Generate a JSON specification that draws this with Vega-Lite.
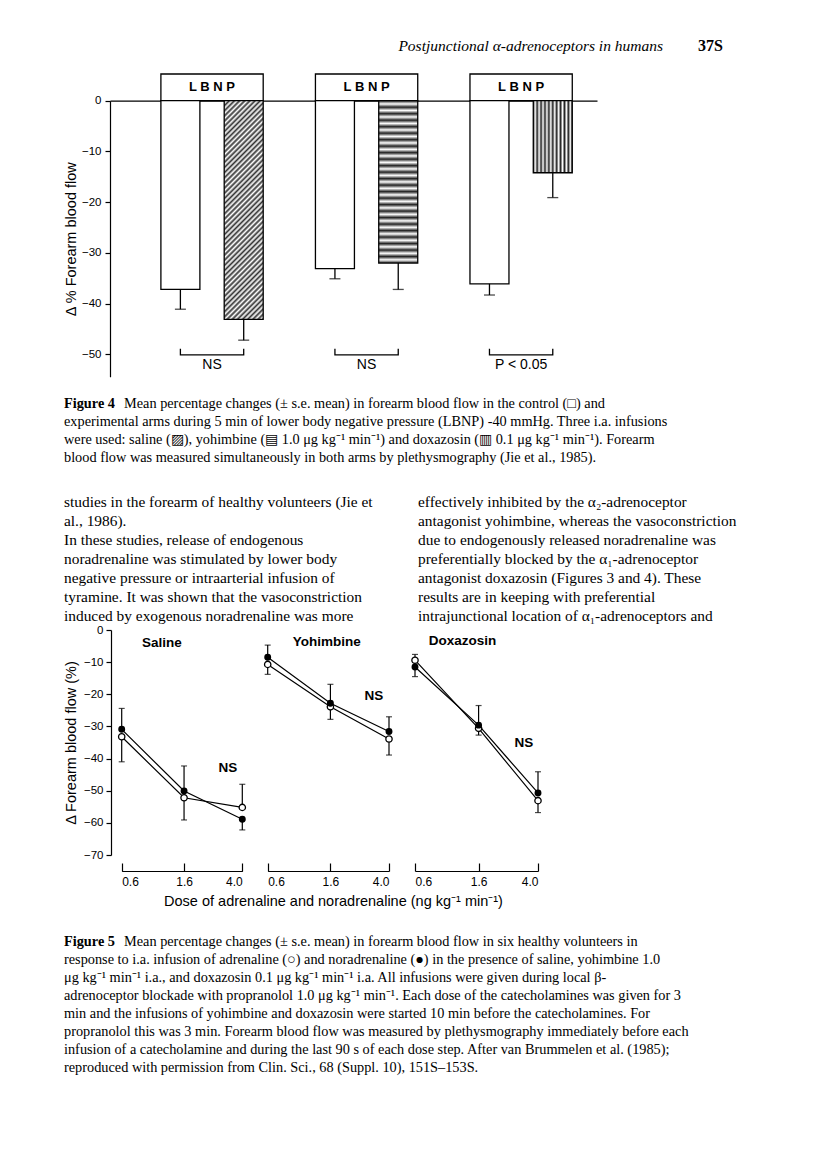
{
  "$schema": "https://vega.github.io/schema/vega-lite/v6.json",
  "width": 816,
  "height": 1162,
  "autosize": {"type": "none"},
  "padding": 0,
  "background": "white",
  "config": {
    "view": {"stroke": null},
    "font": "Liberation Sans",
    "axis": {"grid": false, "domainColor": "black", "tickColor": "black", "labelColor": "black", "titleColor": "black", "labelFont": "Liberation Sans", "titleFont": "Liberation Sans", "titleFontWeight": "normal", "domainWidth": 1.2, "tickWidth": 1.2}
  },
  "datasets": {
    "lbnp": [
      {"group": "Saline", "label": "L B N P"},
      {"group": "Yohimbine", "label": "L B N P"},
      {"group": "Doxazosin", "label": "L B N P"}
    ],
    "fig4": [
      {"group": "Saline", "arm": "control", "value": -37.2, "err": -41.1},
      {"group": "Saline", "arm": "experimental", "value": -43.1, "err": -47.2},
      {"group": "Yohimbine", "arm": "control", "value": -33.1, "err": -35.1},
      {"group": "Yohimbine", "arm": "experimental", "value": -32.0, "err": -37.2},
      {"group": "Doxazosin", "arm": "control", "value": -36.1, "err": -38.3},
      {"group": "Doxazosin", "arm": "experimental", "value": -14.2, "err": -19.1}
    ],
    "brackets": [
      {"group": "Saline", "arm": "control", "level": -48.9, "seq": 1},
      {"group": "Saline", "arm": "control", "level": -50.1, "seq": 2},
      {"group": "Saline", "arm": "experimental", "level": -50.1, "seq": 3},
      {"group": "Saline", "arm": "experimental", "level": -48.9, "seq": 4},
      {"group": "Yohimbine", "arm": "control", "level": -48.9, "seq": 1},
      {"group": "Yohimbine", "arm": "control", "level": -50.1, "seq": 2},
      {"group": "Yohimbine", "arm": "experimental", "level": -50.1, "seq": 3},
      {"group": "Yohimbine", "arm": "experimental", "level": -48.9, "seq": 4},
      {"group": "Doxazosin", "arm": "control", "level": -48.9, "seq": 1},
      {"group": "Doxazosin", "arm": "control", "level": -50.1, "seq": 2},
      {"group": "Doxazosin", "arm": "experimental", "level": -50.1, "seq": 3},
      {"group": "Doxazosin", "arm": "experimental", "level": -48.9, "seq": 4}
    ],
    "sig": [
      {"group": "Saline", "label": "NS"},
      {"group": "Yohimbine", "label": "NS"},
      {"group": "Doxazosin", "label": "P < 0.05"}
    ],
    "fig5": [
      {"cond": "Saline", "drug": "noradrenaline", "dose": 0.6, "value": -30.9, "err": -24.4},
      {"cond": "Saline", "drug": "noradrenaline", "dose": 1.6, "value": -50.1, "err": -42.3},
      {"cond": "Saline", "drug": "noradrenaline", "dose": 4.0, "value": -58.9, "err": -62.2},
      {"cond": "Saline", "drug": "adrenaline", "dose": 0.6, "value": -33.2, "err": -41.0},
      {"cond": "Saline", "drug": "adrenaline", "dose": 1.6, "value": -52.2, "err": -59.1},
      {"cond": "Saline", "drug": "adrenaline", "dose": 4.0, "value": -55.2, "err": -48.0},
      {"cond": "Yohimbine", "drug": "noradrenaline", "dose": 0.6, "value": -8.5, "err": -4.7},
      {"cond": "Yohimbine", "drug": "noradrenaline", "dose": 1.6, "value": -22.8, "err": -16.9},
      {"cond": "Yohimbine", "drug": "noradrenaline", "dose": 4.0, "value": -31.6, "err": -27.0},
      {"cond": "Yohimbine", "drug": "adrenaline", "dose": 0.6, "value": -10.7, "err": -13.8},
      {"cond": "Yohimbine", "drug": "adrenaline", "dose": 1.6, "value": -23.9, "err": -27.8},
      {"cond": "Yohimbine", "drug": "adrenaline", "dose": 4.0, "value": -33.9, "err": -38.9},
      {"cond": "Doxazosin", "drug": "noradrenaline", "dose": 0.6, "value": -11.5, "err": -14.5},
      {"cond": "Doxazosin", "drug": "noradrenaline", "dose": 1.6, "value": -29.6, "err": -23.5},
      {"cond": "Doxazosin", "drug": "noradrenaline", "dose": 4.0, "value": -50.7, "err": -44.1},
      {"cond": "Doxazosin", "drug": "adrenaline", "dose": 0.6, "value": -9.4, "err": -7.6},
      {"cond": "Doxazosin", "drug": "adrenaline", "dose": 1.6, "value": -30.6, "err": -32.7},
      {"cond": "Doxazosin", "drug": "adrenaline", "dose": 4.0, "value": -53.1, "err": -56.8}
    ],
    "fig5labels": [
      {"cond": "Saline", "kind": "title", "text": "Saline", "dose": 1.13, "value": -4.0},
      {"cond": "Saline", "kind": "ns", "text": "NS", "dose": 3.19, "value": -42.9},
      {"cond": "Yohimbine", "kind": "title", "text": "Yohimbine", "dose": 1.51, "value": -3.6},
      {"cond": "Yohimbine", "kind": "ns", "text": "NS", "dose": 3.16, "value": -20.5},
      {"cond": "Doxazosin", "kind": "title", "text": "Doxazosin", "dose": 1.25, "value": -3.3},
      {"cond": "Doxazosin", "kind": "ns", "text": "NS", "dose": 3.22, "value": -35.2}
    ],
    "header": [
      {"part": "title", "line": 0, "text": "Postjunctional α-adrenoceptors in humans"},
      {"part": "page", "line": 0, "text": "37S"}
    ],
    "cap4": [
      {"line": 0, "start": "margin", "kind": "label", "text": "Figure 4"},
      {"line": 0, "start": "after-label", "kind": "text", "text": "Mean percentage changes (± s.e. mean) in forearm blood flow in the control (□) and"},
      {"line": 1, "start": "margin", "kind": "text", "text": "experimental arms during 5 min of lower body negative pressure (LBNP) -40 mmHg. Three i.a. infusions"},
      {"line": 2, "start": "margin", "kind": "text", "text": "were used: saline (▨), yohimbine  (▤ 1.0 μg kg⁻¹ min⁻¹) and doxazosin (▥ 0.1 μg kg⁻¹ min⁻¹).  Forearm"},
      {"line": 3, "start": "margin", "kind": "text", "text": "blood flow was measured simultaneously in both arms by plethysmography (Jie et al., 1985)."}
    ],
    "body": [
      {"col": "left", "line": 0, "text": "studies in the forearm of healthy volunteers (Jie et"},
      {"col": "left", "line": 1, "text": "al., 1986)."},
      {"col": "left", "line": 2, "text": "In these studies, release of endogenous"},
      {"col": "left", "line": 3, "text": "noradrenaline was stimulated by lower body"},
      {"col": "left", "line": 4, "text": "negative pressure or intraarterial infusion of"},
      {"col": "left", "line": 5, "text": "tyramine. It was shown that the vasoconstriction"},
      {"col": "left", "line": 6, "text": "induced by exogenous noradrenaline was more"},
      {"col": "right", "line": 0, "text": "effectively inhibited by the α₂-adrenoceptor"},
      {"col": "right", "line": 1, "text": "antagonist yohimbine, whereas the vasoconstriction"},
      {"col": "right", "line": 2, "text": "due to endogenously released noradrenaline was"},
      {"col": "right", "line": 3, "text": "preferentially blocked by the α₁-adrenoceptor"},
      {"col": "right", "line": 4, "text": "antagonist doxazosin (Figures 3 and 4). These"},
      {"col": "right", "line": 5, "text": "results are in keeping with preferential"},
      {"col": "right", "line": 6, "text": "intrajunctional location of α₁-adrenoceptors and"}
    ],
    "cap5": [
      {"line": 0, "start": "margin", "kind": "label", "text": "Figure 5"},
      {"line": 0, "start": "after-label", "kind": "text", "text": "Mean percentage changes (± s.e. mean) in forearm blood flow in six healthy volunteers in"},
      {"line": 1, "start": "margin", "kind": "text", "text": "response to i.a. infusion of adrenaline (○) and noradrenaline (●) in the presence of saline, yohimbine 1.0"},
      {"line": 2, "start": "margin", "kind": "text", "text": "μg kg⁻¹ min⁻¹ i.a., and doxazosin 0.1 μg kg⁻¹ min⁻¹ i.a. All infusions were given during local β-"},
      {"line": 3, "start": "margin", "kind": "text", "text": "adrenoceptor blockade with propranolol 1.0 μg kg⁻¹ min⁻¹. Each dose of the catecholamines was given for 3"},
      {"line": 4, "start": "margin", "kind": "text", "text": "min and the infusions of yohimbine and doxazosin were started 10 min before the catecholamines. For"},
      {"line": 5, "start": "margin", "kind": "text", "text": "propranolol this was 3 min. Forearm blood flow was measured by plethysmography immediately before each"},
      {"line": 6, "start": "margin", "kind": "text", "text": "infusion of a catecholamine and during the last 90 s of each dose step. After van Brummelen et al. (1985);"},
      {"line": 7, "start": "margin", "kind": "text", "text": "reproduced with permission from Clin. Sci., 68 (Suppl. 10), 151S–153S."}
    ]
  },
  "layer": [
    {
      "encoding": {
        "x": {"field": "group", "type": "nominal", "sort": null, "scale": {"type": "band", "domain": ["Saline", "Yohimbine", "Doxazosin"], "range": [110, 597], "paddingInner": 0.338, "paddingOuter": 0.2447, "align": 0.673}, "axis": {"orient": "top", "offset": -100.7, "ticks": false, "labels": false, "title": null, "domainWidth": 1.3}}
      },
      "layer": [
        {
          "data": {"name": "lbnp"},
          "mark": {"type": "bar", "fill": "white", "stroke": "black", "strokeWidth": 1.3},
          "encoding": {
            "y": {"datum": 5.26, "type": "quantitative", "scale": {"domain": [-54.4, 0], "range": [376.7, 100.7], "zero": false, "nice": false}, "axis": {"orient": "left", "offset": -110, "values": [0, -10, -20, -30, -40, -50], "title": "Δ % Forearm blood flow", "titleX": -31.5, "titleFontSize": 14.5, "labelFontSize": 11.5, "tickSize": 5, "labelPadding": 4}},
            "y2": {"datum": 0}
          }
        },
        {
          "data": {"name": "lbnp"},
          "mark": {"type": "text", "fontWeight": "bold", "fontSize": 13, "baseline": "middle", "color": "black"},
          "encoding": {"y": {"datum": 2.7, "type": "quantitative"}, "text": {"field": "label"}}
        },
        {
          "data": {"name": "fig4"},
          "transform": [{"filter": "datum.arm == 'control'"}],
          "mark": {"type": "bar", "fill": "white", "stroke": "black", "strokeWidth": 1.3},
          "encoding": {
            "xOffset": {"field": "arm", "type": "nominal", "scale": {"domain": ["control", "experimental"], "paddingInner": 0.384, "paddingOuter": 0}},
            "y": {"field": "value", "type": "quantitative"},
            "y2": {"datum": 0}
          }
        },
        {
          "data": {"name": "fig4"},
          "transform": [{"filter": "datum.arm == 'experimental' && datum.group == 'Saline'"}],
          "mark": {"type": "bar", "stroke": "black", "strokeWidth": 1.3, "fill": {"gradient": "linear", "x1": 0, "y1": 0, "x2": 0.204, "y2": 1.142, "stops": [
            {"offset": 0, "color": "#333"}, {"offset": 0.01, "color": "#fff"}, {"offset": 0.02, "color": "#333"}, {"offset": 0.03, "color": "#fff"}, {"offset": 0.04, "color": "#333"}, {"offset": 0.05, "color": "#fff"}, {"offset": 0.06, "color": "#333"}, {"offset": 0.07, "color": "#fff"}, {"offset": 0.08, "color": "#333"}, {"offset": 0.09, "color": "#fff"},
            {"offset": 0.1, "color": "#333"}, {"offset": 0.11, "color": "#fff"}, {"offset": 0.12, "color": "#333"}, {"offset": 0.13, "color": "#fff"}, {"offset": 0.14, "color": "#333"}, {"offset": 0.15, "color": "#fff"}, {"offset": 0.16, "color": "#333"}, {"offset": 0.17, "color": "#fff"}, {"offset": 0.18, "color": "#333"}, {"offset": 0.19, "color": "#fff"},
            {"offset": 0.2, "color": "#333"}, {"offset": 0.21, "color": "#fff"}, {"offset": 0.22, "color": "#333"}, {"offset": 0.23, "color": "#fff"}, {"offset": 0.24, "color": "#333"}, {"offset": 0.25, "color": "#fff"}, {"offset": 0.26, "color": "#333"}, {"offset": 0.27, "color": "#fff"}, {"offset": 0.28, "color": "#333"}, {"offset": 0.29, "color": "#fff"},
            {"offset": 0.3, "color": "#333"}, {"offset": 0.31, "color": "#fff"}, {"offset": 0.32, "color": "#333"}, {"offset": 0.33, "color": "#fff"}, {"offset": 0.34, "color": "#333"}, {"offset": 0.35, "color": "#fff"}, {"offset": 0.36, "color": "#333"}, {"offset": 0.37, "color": "#fff"}, {"offset": 0.38, "color": "#333"}, {"offset": 0.39, "color": "#fff"},
            {"offset": 0.4, "color": "#333"}, {"offset": 0.41, "color": "#fff"}, {"offset": 0.42, "color": "#333"}, {"offset": 0.43, "color": "#fff"}, {"offset": 0.44, "color": "#333"}, {"offset": 0.45, "color": "#fff"}, {"offset": 0.46, "color": "#333"}, {"offset": 0.47, "color": "#fff"}, {"offset": 0.48, "color": "#333"}, {"offset": 0.49, "color": "#fff"},
            {"offset": 0.5, "color": "#333"}, {"offset": 0.51, "color": "#fff"}, {"offset": 0.52, "color": "#333"}, {"offset": 0.53, "color": "#fff"}, {"offset": 0.54, "color": "#333"}, {"offset": 0.55, "color": "#fff"}, {"offset": 0.56, "color": "#333"}, {"offset": 0.57, "color": "#fff"}, {"offset": 0.58, "color": "#333"}, {"offset": 0.59, "color": "#fff"},
            {"offset": 0.6, "color": "#333"}, {"offset": 0.61, "color": "#fff"}, {"offset": 0.62, "color": "#333"}, {"offset": 0.63, "color": "#fff"}, {"offset": 0.64, "color": "#333"}, {"offset": 0.65, "color": "#fff"}, {"offset": 0.66, "color": "#333"}, {"offset": 0.67, "color": "#fff"}, {"offset": 0.68, "color": "#333"}, {"offset": 0.69, "color": "#fff"},
            {"offset": 0.7, "color": "#333"}, {"offset": 0.71, "color": "#fff"}, {"offset": 0.72, "color": "#333"}, {"offset": 0.73, "color": "#fff"}, {"offset": 0.74, "color": "#333"}, {"offset": 0.75, "color": "#fff"}, {"offset": 0.76, "color": "#333"}, {"offset": 0.77, "color": "#fff"}, {"offset": 0.78, "color": "#333"}, {"offset": 0.79, "color": "#fff"},
            {"offset": 0.8, "color": "#333"}, {"offset": 0.81, "color": "#fff"}, {"offset": 0.82, "color": "#333"}, {"offset": 0.83, "color": "#fff"}, {"offset": 0.84, "color": "#333"}, {"offset": 0.85, "color": "#fff"}, {"offset": 0.86, "color": "#333"}, {"offset": 0.87, "color": "#fff"}, {"offset": 0.88, "color": "#333"}, {"offset": 0.89, "color": "#fff"},
            {"offset": 0.9, "color": "#333"}, {"offset": 0.91, "color": "#fff"}, {"offset": 0.92, "color": "#333"}, {"offset": 0.93, "color": "#fff"}, {"offset": 0.94, "color": "#333"}, {"offset": 0.95, "color": "#fff"}, {"offset": 0.96, "color": "#333"}, {"offset": 0.97, "color": "#fff"}, {"offset": 0.98, "color": "#333"}, {"offset": 0.99, "color": "#fff"},
            {"offset": 1, "color": "#333"}
          ]}},
          "encoding": {
            "xOffset": {"field": "arm", "type": "nominal"},
            "y": {"field": "value", "type": "quantitative"},
            "y2": {"datum": 0}
          }
        },
        {
          "data": {"name": "fig4"},
          "transform": [{"filter": "datum.arm == 'experimental' && datum.group == 'Yohimbine'"}],
          "mark": {"type": "bar", "stroke": "black", "strokeWidth": 1.3, "fill": {"gradient": "linear", "x1": 0, "y1": 0, "x2": 0, "y2": 1, "stops": [
            {"offset": 0, "color": "#222"}, {"offset": 0.02, "color": "#fff"}, {"offset": 0.04, "color": "#222"}, {"offset": 0.06, "color": "#fff"}, {"offset": 0.08, "color": "#222"}, {"offset": 0.1, "color": "#fff"},
            {"offset": 0.12, "color": "#222"}, {"offset": 0.14, "color": "#fff"}, {"offset": 0.16, "color": "#222"}, {"offset": 0.18, "color": "#fff"}, {"offset": 0.2, "color": "#222"},
            {"offset": 0.22, "color": "#fff"}, {"offset": 0.24, "color": "#222"}, {"offset": 0.26, "color": "#fff"}, {"offset": 0.28, "color": "#222"}, {"offset": 0.3, "color": "#fff"},
            {"offset": 0.32, "color": "#222"}, {"offset": 0.34, "color": "#fff"}, {"offset": 0.36, "color": "#222"}, {"offset": 0.38, "color": "#fff"}, {"offset": 0.4, "color": "#222"},
            {"offset": 0.42, "color": "#fff"}, {"offset": 0.44, "color": "#222"}, {"offset": 0.46, "color": "#fff"}, {"offset": 0.48, "color": "#222"}, {"offset": 0.5, "color": "#fff"},
            {"offset": 0.52, "color": "#222"}, {"offset": 0.54, "color": "#fff"}, {"offset": 0.56, "color": "#222"}, {"offset": 0.58, "color": "#fff"}, {"offset": 0.6, "color": "#222"},
            {"offset": 0.62, "color": "#fff"}, {"offset": 0.64, "color": "#222"}, {"offset": 0.66, "color": "#fff"}, {"offset": 0.68, "color": "#222"}, {"offset": 0.7, "color": "#fff"},
            {"offset": 0.72, "color": "#222"}, {"offset": 0.74, "color": "#fff"}, {"offset": 0.76, "color": "#222"}, {"offset": 0.78, "color": "#fff"}, {"offset": 0.8, "color": "#222"},
            {"offset": 0.82, "color": "#fff"}, {"offset": 0.84, "color": "#222"}, {"offset": 0.86, "color": "#fff"}, {"offset": 0.88, "color": "#222"}, {"offset": 0.9, "color": "#fff"},
            {"offset": 0.92, "color": "#222"}, {"offset": 0.94, "color": "#fff"}, {"offset": 0.96, "color": "#222"}, {"offset": 0.98, "color": "#fff"}, {"offset": 1, "color": "#222"}
          ]}},
          "encoding": {
            "xOffset": {"field": "arm", "type": "nominal"},
            "y": {"field": "value", "type": "quantitative"},
            "y2": {"datum": 0}
          }
        },
        {
          "data": {"name": "fig4"},
          "transform": [{"filter": "datum.arm == 'experimental' && datum.group == 'Doxazosin'"}],
          "mark": {"type": "bar", "stroke": "black", "strokeWidth": 1.3, "fill": {"gradient": "linear", "x1": 0, "y1": 0, "x2": 1, "y2": 0, "stops": [
            {"offset": 0, "color": "#222"}, {"offset": 0.05, "color": "#fff"}, {"offset": 0.1, "color": "#222"}, {"offset": 0.15, "color": "#fff"}, {"offset": 0.2, "color": "#222"},
            {"offset": 0.25, "color": "#fff"}, {"offset": 0.3, "color": "#222"}, {"offset": 0.35, "color": "#fff"}, {"offset": 0.4, "color": "#222"}, {"offset": 0.45, "color": "#fff"},
            {"offset": 0.5, "color": "#222"}, {"offset": 0.55, "color": "#fff"}, {"offset": 0.6, "color": "#222"}, {"offset": 0.65, "color": "#fff"}, {"offset": 0.7, "color": "#222"},
            {"offset": 0.75, "color": "#fff"}, {"offset": 0.8, "color": "#222"}, {"offset": 0.85, "color": "#fff"}, {"offset": 0.9, "color": "#222"}, {"offset": 0.95, "color": "#fff"},
            {"offset": 1, "color": "#222"}
          ]}},
          "encoding": {
            "xOffset": {"field": "arm", "type": "nominal"},
            "y": {"field": "value", "type": "quantitative"},
            "y2": {"datum": 0}
          }
        },
        {
          "data": {"name": "fig4"},
          "mark": {"type": "rule", "color": "black", "strokeWidth": 1.3},
          "encoding": {
            "xOffset": {"field": "arm", "type": "nominal"},
            "y": {"field": "value", "type": "quantitative"},
            "y2": {"field": "err"}
          }
        },
        {
          "data": {"name": "fig4"},
          "mark": {"type": "tick", "orient": "horizontal", "color": "black", "size": 11, "thickness": 1.3},
          "encoding": {
            "xOffset": {"field": "arm", "type": "nominal"},
            "y": {"field": "err", "type": "quantitative"}
          }
        },
        {
          "data": {"name": "brackets"},
          "mark": {"type": "line", "color": "black", "strokeWidth": 1.3},
          "encoding": {
            "xOffset": {"field": "arm", "type": "nominal"},
            "y": {"field": "level", "type": "quantitative"},
            "detail": {"field": "group"},
            "order": {"field": "seq"}
          }
        },
        {
          "data": {"name": "sig"},
          "mark": {"type": "text", "fontSize": 14, "baseline": "middle", "color": "black"},
          "encoding": {"y": {"datum": -52.1, "type": "quantitative"}, "text": {"field": "label"}}
        }
      ]
    },
    {
      "data": {"name": "fig5"},
      "encoding": {
        "x": {"field": "dose", "type": "quantitative", "scale": {"type": "log", "domain": [0.6, 4], "range": [121.7, 242.3], "nice": false, "zero": false}, "axis": {"orient": "bottom", "offset": -291, "values": [0.6, 1.6, 4], "format": ".1f", "tickSize": -8, "labelPadding": 13, "labelFontSize": 12, "title": null}},
        "y": {"field": "value", "type": "quantitative", "scale": {"domain": [-70, 0], "range": [855, 630], "nice": false, "zero": false}, "axis": {"orient": "left", "offset": -111, "values": [0, -10, -20, -30, -40, -50, -60, -70], "title": "Δ Forearm blood flow (%)", "titleX": -32.5, "titleFontSize": 14.5, "labelFontSize": 11.5, "tickSize": 5, "labelPadding": 3}}
      },
      "layer": [
        {"transform": [{"filter": "datum.cond == 'Saline'"}], "mark": {"type": "line", "color": "black", "strokeWidth": 1.2}, "encoding": {"detail": {"field": "drug"}}},
        {"transform": [{"filter": "datum.cond == 'Saline'"}], "mark": {"type": "rule", "color": "black", "strokeWidth": 1.2}, "encoding": {"y2": {"field": "err"}}},
        {"transform": [{"filter": "datum.cond == 'Saline'"}], "mark": {"type": "tick", "orient": "horizontal", "color": "black", "size": 6, "thickness": 1.2}, "encoding": {"y": {"field": "err", "type": "quantitative"}}},
        {"transform": [{"filter": "datum.cond == 'Saline' && datum.drug == 'adrenaline'"}], "mark": {"type": "point", "shape": "circle", "filled": true, "fill": "white", "stroke": "black", "strokeWidth": 1.3, "size": 40, "opacity": 1}},
        {"transform": [{"filter": "datum.cond == 'Saline' && datum.drug == 'noradrenaline'"}], "mark": {"type": "point", "shape": "circle", "filled": true, "color": "black", "size": 48, "opacity": 1}},
        {"data": {"name": "fig5labels"}, "transform": [{"filter": "datum.cond == 'Saline' && datum.kind == 'title'"}], "mark": {"type": "text", "fontWeight": "bold", "fontSize": 13.5, "baseline": "middle", "color": "black"}, "encoding": {"text": {"field": "text"}}},
        {"data": {"name": "fig5labels"}, "transform": [{"filter": "datum.cond == 'Saline' && datum.kind == 'ns'"}], "mark": {"type": "text", "fontWeight": "bold", "fontSize": 13.5, "baseline": "middle", "color": "black"}, "encoding": {"text": {"field": "text"}}}
      ]
    },
    {
      "data": {"name": "fig5"},
      "encoding": {
        "x": {"field": "dose", "type": "quantitative", "scale": {"type": "log", "domain": [0.6, 4], "range": [267.7, 389], "nice": false, "zero": false}, "axis": {"orient": "bottom", "offset": -291, "values": [0.6, 1.6, 4], "format": ".1f", "tickSize": -8, "labelPadding": 13, "labelFontSize": 12, "title": "Dose of adrenaline and noradrenaline (ng kg⁻¹ min⁻¹)", "titleX": 333, "titleY": 30, "titleBaseline": "middle", "titleFontSize": 14.5}},
        "y": {"field": "value", "type": "quantitative", "scale": {"domain": [-70, 0], "range": [855, 630], "nice": false, "zero": false}, "axis": null}
      },
      "layer": [
        {"transform": [{"filter": "datum.cond == 'Yohimbine'"}], "mark": {"type": "line", "color": "black", "strokeWidth": 1.2}, "encoding": {"detail": {"field": "drug"}}},
        {"transform": [{"filter": "datum.cond == 'Yohimbine'"}], "mark": {"type": "rule", "color": "black", "strokeWidth": 1.2}, "encoding": {"y2": {"field": "err"}}},
        {"transform": [{"filter": "datum.cond == 'Yohimbine'"}], "mark": {"type": "tick", "orient": "horizontal", "color": "black", "size": 6, "thickness": 1.2}, "encoding": {"y": {"field": "err", "type": "quantitative", "axis": null}}},
        {"transform": [{"filter": "datum.cond == 'Yohimbine' && datum.drug == 'adrenaline'"}], "mark": {"type": "point", "shape": "circle", "filled": true, "fill": "white", "stroke": "black", "strokeWidth": 1.3, "size": 40, "opacity": 1}},
        {"transform": [{"filter": "datum.cond == 'Yohimbine' && datum.drug == 'noradrenaline'"}], "mark": {"type": "point", "shape": "circle", "filled": true, "color": "black", "size": 48, "opacity": 1}},
        {"data": {"name": "fig5labels"}, "transform": [{"filter": "datum.cond == 'Yohimbine' && datum.kind == 'title'"}], "mark": {"type": "text", "fontWeight": "bold", "fontSize": 13.5, "baseline": "middle", "color": "black"}, "encoding": {"text": {"field": "text"}}},
        {"data": {"name": "fig5labels"}, "transform": [{"filter": "datum.cond == 'Yohimbine' && datum.kind == 'ns'"}], "mark": {"type": "text", "fontWeight": "bold", "fontSize": 13.5, "baseline": "middle", "color": "black"}, "encoding": {"text": {"field": "text"}}}
      ]
    },
    {
      "data": {"name": "fig5"},
      "encoding": {
        "x": {"field": "dose", "type": "quantitative", "scale": {"type": "log", "domain": [0.6, 4], "range": [415, 538], "nice": false, "zero": false}, "axis": {"orient": "bottom", "offset": -291, "values": [0.6, 1.6, 4], "format": ".1f", "tickSize": -8, "labelPadding": 13, "labelFontSize": 12, "title": null}},
        "y": {"field": "value", "type": "quantitative", "scale": {"domain": [-70, 0], "range": [855, 630], "nice": false, "zero": false}, "axis": null}
      },
      "layer": [
        {"transform": [{"filter": "datum.cond == 'Doxazosin'"}], "mark": {"type": "line", "color": "black", "strokeWidth": 1.2}, "encoding": {"detail": {"field": "drug"}}},
        {"transform": [{"filter": "datum.cond == 'Doxazosin'"}], "mark": {"type": "rule", "color": "black", "strokeWidth": 1.2}, "encoding": {"y2": {"field": "err"}}},
        {"transform": [{"filter": "datum.cond == 'Doxazosin'"}], "mark": {"type": "tick", "orient": "horizontal", "color": "black", "size": 6, "thickness": 1.2}, "encoding": {"y": {"field": "err", "type": "quantitative", "axis": null}}},
        {"transform": [{"filter": "datum.cond == 'Doxazosin' && datum.drug == 'adrenaline'"}], "mark": {"type": "point", "shape": "circle", "filled": true, "fill": "white", "stroke": "black", "strokeWidth": 1.3, "size": 40, "opacity": 1}},
        {"transform": [{"filter": "datum.cond == 'Doxazosin' && datum.drug == 'noradrenaline'"}], "mark": {"type": "point", "shape": "circle", "filled": true, "color": "black", "size": 48, "opacity": 1}},
        {"data": {"name": "fig5labels"}, "transform": [{"filter": "datum.cond == 'Doxazosin' && datum.kind == 'title'"}], "mark": {"type": "text", "fontWeight": "bold", "fontSize": 13.5, "baseline": "middle", "color": "black"}, "encoding": {"text": {"field": "text"}}},
        {"data": {"name": "fig5labels"}, "transform": [{"filter": "datum.cond == 'Doxazosin' && datum.kind == 'ns'"}], "mark": {"type": "text", "fontWeight": "bold", "fontSize": 13.5, "baseline": "middle", "color": "black"}, "encoding": {"text": {"field": "text"}}}
      ]
    },
    {
      "data": {"name": "header"},
      "encoding": {
        "x": {"field": "part", "type": "nominal", "scale": {"type": "point", "domain": ["title", "page"], "range": [663, 698], "padding": 0}, "axis": null},
        "y": {"field": "line", "type": "quantitative", "scale": {"domain": [0, 1], "range": [46, 66], "zero": false, "nice": false}, "axis": null},
        "text": {"field": "text"}
      },
      "layer": [
        {"transform": [{"filter": "datum.part == 'title'"}], "mark": {"type": "text", "font": "Liberation Serif", "fontStyle": "italic", "fontSize": 15.5, "align": "right", "baseline": "middle", "color": "black"}},
        {"transform": [{"filter": "datum.part == 'page'"}], "mark": {"type": "text", "font": "Liberation Serif", "fontWeight": "bold", "fontSize": 16, "align": "left", "baseline": "middle", "color": "black"}}
      ]
    },
    {
      "data": {"name": "cap4"},
      "encoding": {
        "x": {"field": "start", "type": "nominal", "scale": {"type": "point", "domain": ["margin", "after-label"], "range": [64, 124], "padding": 0}, "axis": null},
        "y": {"field": "line", "type": "quantitative", "scale": {"domain": [0, 3], "range": [404, 458], "zero": false, "nice": false}, "axis": null},
        "text": {"field": "text"}
      },
      "layer": [
        {"transform": [{"filter": "datum.kind == 'label'"}], "mark": {"type": "text", "font": "Liberation Serif", "fontWeight": "bold", "fontSize": 14.3, "align": "left", "baseline": "middle", "color": "black"}},
        {"transform": [{"filter": "datum.kind == 'text'"}], "mark": {"type": "text", "font": "Liberation Serif", "fontSize": 14.3, "align": "left", "baseline": "middle", "color": "black"}}
      ]
    },
    {
      "data": {"name": "body"},
      "mark": {"type": "text", "font": "Liberation Serif", "fontSize": 15.4, "align": "left", "baseline": "middle", "color": "black"},
      "encoding": {
        "x": {"field": "col", "type": "nominal", "scale": {"type": "point", "domain": ["left", "right"], "range": [64, 418], "padding": 0}, "axis": null},
        "y": {"field": "line", "type": "quantitative", "scale": {"domain": [0, 6], "range": [502, 616], "zero": false, "nice": false}, "axis": null},
        "text": {"field": "text"}
      }
    },
    {
      "data": {"name": "cap5"},
      "encoding": {
        "x": {"field": "start", "type": "nominal", "scale": {"type": "point", "domain": ["margin", "after-label"], "range": [64, 124], "padding": 0}, "axis": null},
        "y": {"field": "line", "type": "quantitative", "scale": {"domain": [0, 7], "range": [942, 1068], "zero": false, "nice": false}, "axis": null},
        "text": {"field": "text"}
      },
      "layer": [
        {"transform": [{"filter": "datum.kind == 'label'"}], "mark": {"type": "text", "font": "Liberation Serif", "fontWeight": "bold", "fontSize": 14.3, "align": "left", "baseline": "middle", "color": "black"}},
        {"transform": [{"filter": "datum.kind == 'text'"}], "mark": {"type": "text", "font": "Liberation Serif", "fontSize": 14.3, "align": "left", "baseline": "middle", "color": "black"}}
      ]
    }
  ],
  "resolve": {"scale": {"x": "independent", "y": "independent"}}
}
